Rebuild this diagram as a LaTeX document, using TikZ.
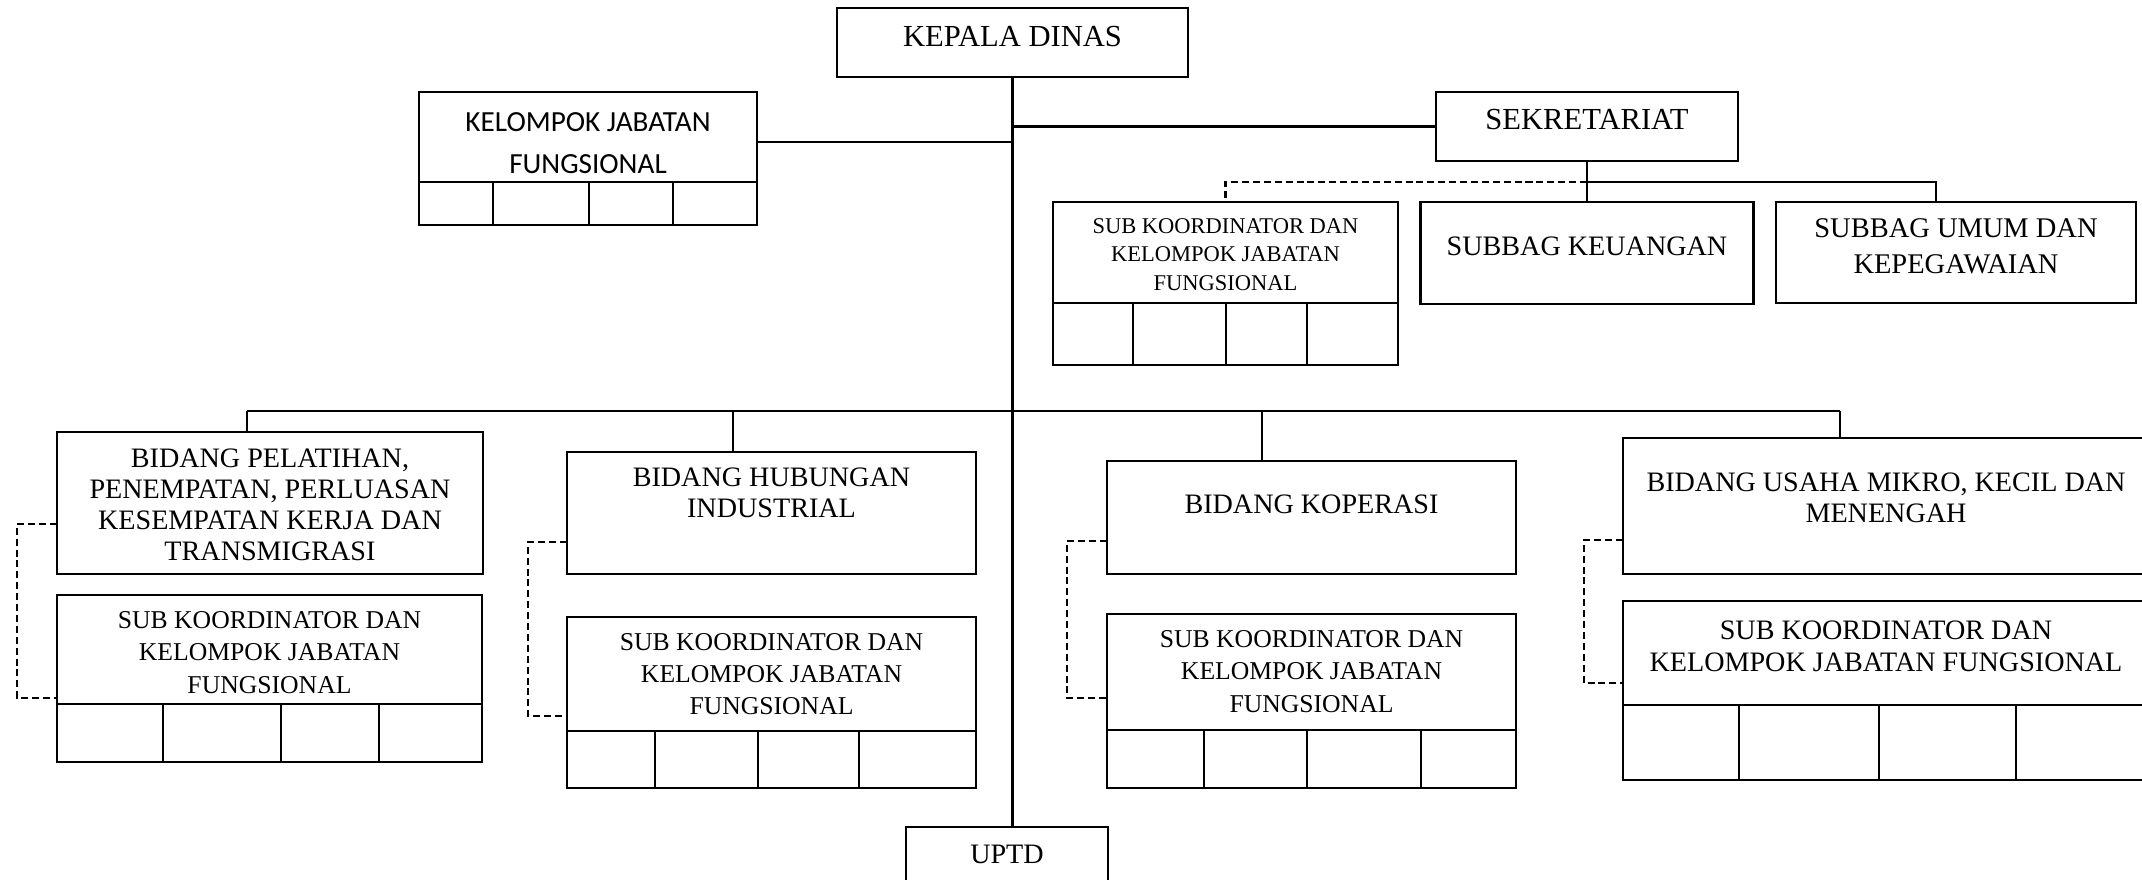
\documentclass[tikz,border=0pt]{standalone}
\usepackage{fontspec}
\setmainfont{Liberation Serif}
\newfontfamily\carlito{Carlito}
\usetikzlibrary{calc}

\tikzset{
  box/.style={draw, line width=.7pt, inner sep=0pt, outer sep=0pt},
  lbl/.style={align=center, inner sep=0pt},
  link/.style={line width=.6pt},
  dlink/.style={line width=.6pt, dash pattern=on 2pt off 1.1pt},
  cell/.style={line width=.5pt},
  hd/.style={font=\fontsize{8.7}{10}\selectfont},
  bd/.style={font=\fontsize{8}{8.8}\selectfont},
  sk/.style={font=\fontsize{7.3}{9.2}\selectfont},
}

\begin{document}
\begin{tikzpicture}[x=0.01cm, y=-0.01cm]
  \useasboundingbox (0,0) rectangle (2142,880);
  \clip (0,0) rectangle (2142,880);

  % pimpinan, sekretariat, uptd
  \node[box, minimum width=3.51cm, minimum height=0.69cm] (kadis) at (1012.5,42.5) {};
  \node[lbl, hd] (kadis-t) at (1012.5,37) {KEPALA DINAS};
  \node[box, minimum width=3.02cm, minimum height=0.69cm] (sek) at (1587,126.5) {};
  \node[lbl, hd] (sek-t) at (1587,120) {SEKRETARIAT};
  \node[box, minimum width=2.02cm, minimum height=0.55cm] (uptd) at (1007,854.5) {};
  \node[lbl, bd] (uptd-t) at (1007,854) {UPTD};

  \node[box, minimum width=3.38cm, minimum height=0.90cm] (kjf) at (588,137) {};
  \node[lbl, font=\carlito\fontsize{8.3}{11.8}\selectfont] (kjf-t) at (588,143) {KELOMPOK JABATAN\\FUNGSIONAL};
  \draw[box] (kjf.south west) rectangle ++(338,43);
  \foreach \x in {493,589,673} \draw[cell] (\x,182) -- (\x,225);

  % bawah sekretariat
  \node[box, minimum width=3.45cm, minimum height=1.01cm] (subsek) at (1225.5,252.5) {};
  \node[lbl, font=\fontsize{6.4}{8.1}\selectfont] (subsek-t) at (1225.5,254.5) {SUB KOORDINATOR DAN\\KELOMPOK JABATAN\\FUNGSIONAL};
  \draw[box] (subsek.south west) rectangle ++(345,62);
  \foreach \x in {1133,1226,1307} \draw[cell] (\x,303) -- (\x,365);
  \node[box, minimum width=3.33cm, minimum height=1.02cm] (keu) at (1587,253) {};
  \node[lbl, bd] (keu-t) at (1587,246) {SUBBAG KEUANGAN};
  \node[box, minimum width=3.60cm, minimum height=1.01cm] (umum) at (1956,252.5) {};
  \node[lbl, font=\fontsize{8.1}{10.2}\selectfont] (umum-t) at (1956,246) {SUBBAG UMUM DAN\\KEPEGAWAIAN};

  % bidang
  \node[box, minimum width=4.26cm, minimum height=1.42cm] (pel) at (270,503) {};
  \node[lbl, bd] (pel-t) at (270,505) {BIDANG PELATIHAN,\\PENEMPATAN, PERLUASAN\\KESEMPATAN KERJA DAN\\TRANSMIGRASI};
  \node[box, minimum width=4.09cm, minimum height=1.22cm] (hub) at (771.5,513) {};
  \node[lbl, bd] (hub-t) at (771.5,493) {BIDANG HUBUNGAN\\INDUSTRIAL};
  \node[box, minimum width=4.09cm, minimum height=1.13cm] (kop) at (1311.5,517.5) {};
  \node[lbl, bd] (kop-t) at (1311.5,504) {BIDANG KOPERASI};
  \node[box, minimum width=5.37cm, minimum height=1.36cm] (usa) at (1891.5,506) {};
  \node[lbl, bd] (usa-t) at (1886,497.5) {BIDANG USAHA MIKRO, KECIL DAN\\MENENGAH};

  % sub koordinator bidang
  \node[box, minimum width=4.25cm, minimum height=1.09cm] (sub1) at (269.5,649.5) {};
  \node[lbl, sk] (sub1-t) at (269.5,652.5) {SUB KOORDINATOR DAN\\KELOMPOK JABATAN\\FUNGSIONAL};
  \draw[box] (sub1.south west) rectangle ++(425,58);
  \foreach \x in {163,281,379} \draw[cell] (\x,704) -- (\x,762);
  \node[box, minimum width=4.09cm, minimum height=1.14cm] (sub2) at (771.5,674) {};
  \node[lbl, sk] (sub2-t) at (771.5,674) {SUB KOORDINATOR DAN\\KELOMPOK JABATAN\\FUNGSIONAL};
  \draw[box] (sub2.south west) rectangle ++(409,57);
  \foreach \x in {655,758,859} \draw[cell] (\x,731) -- (\x,788);
  \node[box, minimum width=4.09cm, minimum height=1.16cm] (sub3) at (1311.5,672) {};
  \node[lbl, sk] (sub3-t) at (1311.5,671.5) {SUB KOORDINATOR DAN\\KELOMPOK JABATAN\\FUNGSIONAL};
  \draw[box] (sub3.south west) rectangle ++(409,58);
  \foreach \x in {1204,1307,1421} \draw[cell] (\x,730) -- (\x,788);
  \node[box, minimum width=5.37cm, minimum height=1.04cm] (sub4) at (1891.5,653) {};
  \node[lbl, font=\fontsize{8}{9.1}\selectfont] (sub4-t) at (1886,646) {SUB KOORDINATOR DAN\\KELOMPOK JABATAN FUNGSIONAL};
  \draw[box] (sub4.south west) rectangle ++(537,75);
  \foreach \x in {1739,1879,2016} \draw[cell] (\x,705) -- (\x,780);

  % garis
  \coordinate (j1) at (1012,142);
  \draw[link] (kadis.south) -- (kadis.south |- uptd.north);
  \draw[link] (kjf.east |- j1) -- (j1);
  \draw[link] (sek.west) -- (sek.west -| kadis.south);

  \coordinate (sb) at (1587,182);
  \coordinate (umd) at (1936,182);
  \draw[link] (sek.south) -- (keu.north);
  \draw[link] (sb) -| (umum.north -| umd);
  \draw[dlink] (sb) -| (subsek.north);

  \coordinate (b1) at (247,411);
  \coordinate (b2) at (733,411);
  \coordinate (b3) at (1262,411);
  \coordinate (b4) at (1840,411);
  \draw[link] (b1) -- (b4);
  \draw[link] (b1) -- (b1 |- pel.north);
  \draw[link] (b2) -- (b2 |- hub.north);
  \draw[link] (b3) -- (b3 |- kop.north);
  \draw[link] (b4) -- (b4 |- usa.north);

  \coordinate (e1a) at (17,524);   \coordinate (e1b) at (17,698);
  \coordinate (e2a) at (528,542);  \coordinate (e2b) at (528,716);
  \coordinate (e3a) at (1067,541); \coordinate (e3b) at (1067,698);
  \coordinate (e4a) at (1584,540); \coordinate (e4b) at (1584,683);
  \draw[dlink] (e1a -| pel.west) -- (e1a) -- (e1b) -- (e1b -| sub1.west);
  \draw[dlink] (e2a -| hub.west) -- (e2a) -- (e2b) -- (e2b -| sub2.west);
  \draw[dlink] (e3a -| kop.west) -- (e3a) -- (e3b) -- (e3b -| sub3.west);
  \draw[dlink] (e4a -| usa.west) -- (e4a) -- (e4b) -- (e4b -| sub4.west);
\end{tikzpicture}
\end{document}
